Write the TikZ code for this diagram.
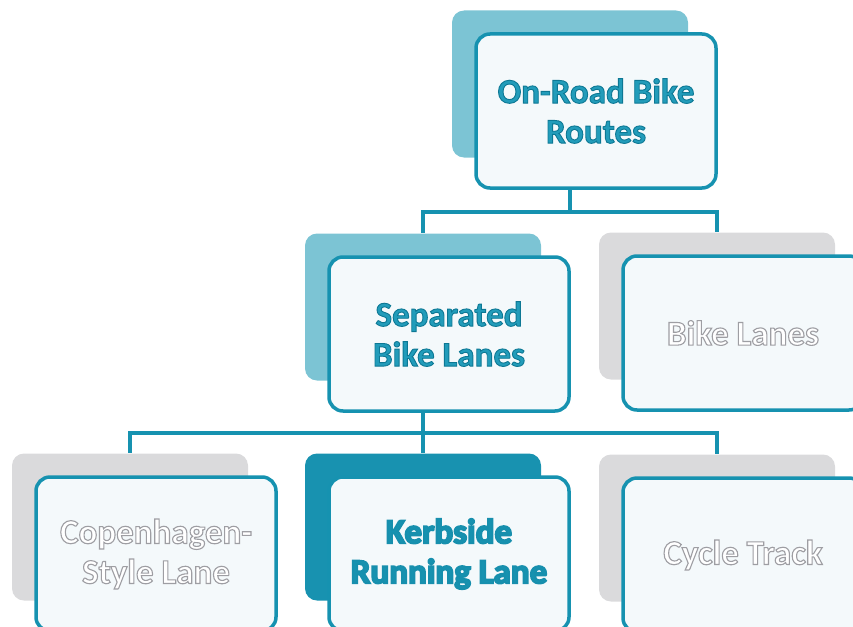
\documentclass[tikz,border=0pt]{standalone}
\usepackage{fontspec}
\setmainfont{Carlito}
\definecolor{tealline}{RGB}{22,146,176}
\definecolor{tealtext}{RGB}{34,156,186}
\definecolor{backlight}{RGB}{124,196,212}
\definecolor{backdark}{RGB}{24,146,176}
\definecolor{backgray}{RGB}{218,218,220}
\definecolor{cardfill}{RGB}{244,249,251}
% outlined text: fill colour, stroke rgb, stroke width
\newcommand\outl[4]{\textcolor{#1}{\special{pdf:literal direct 2 Tr #3 w #2 RG}#4\special{pdf:literal direct 0 Tr}}}
\newcommand\hl[1]{\outl{tealtext}{0.05 0.47 0.58}{0.9}{#1}}
\newcommand\hv[1]{\outl{tealline}{0.09 0.56 0.68}{1.8}{#1}}
\newcommand\shd[1]{\outl{white}{0.62 0.62 0.64}{1.1}{#1}}
\tikzset{
	card/.style={draw=tealline, line width=3.5pt, fill=cardfill, rounded corners=14pt,
		minimum width=240pt, minimum height=154pt, align=center,
		font=\bfseries\fontsize{35}{40}\selectfont},
	backcard/.style={rounded corners=12pt, minimum width=236pt, minimum height=147pt},
	link/.style={draw=tealline, line width=4pt}
}
\begin{document}
\begin{tikzpicture}[x=1pt,y=-1pt]
	\useasboundingbox (0,0) rectangle (853,626);
	\def\dx{26} \def\dy{27} % front card shift
	% back cards
	\node[backcard, fill=backlight] (rootbk) at (570,84) {};
	\node[backcard, fill=backlight] (sepbk) at (423,307) {};
	\node[backcard, fill=backgray] (lanesbk) at (717,306) {};
	\node[backcard, fill=backgray] (copenbk) at (130,527) {};
	\node[backcard, fill=backdark] (kerbbk) at (423,527) {};
	\node[backcard, fill=backgray] (cyclebk) at (717,528) {};
	% front cards
	\node[card] (root) at (570+\dx,84+\dy) {\hl{On-Road Bike}\\\hl{Routes}};
	\node[card] (sep) at (423+\dx,307+\dy) {\hl{Separated}\\\hl{Bike Lanes}};
	\node[card] (lanes) at (717+\dx,306+\dy) {\shd{Bike Lanes}};
	\node[card] (copen) at (130+\dx,527+\dy) {\shd{Copenhagen-}\\\shd{Style Lane}};
	\node[card] (kerb) at (423+\dx,527+\dy) {\hv{Kerbside}\\\hv{Running Lane}};
	\node[card] (cycle) at (717+\dx,528+\dy) {\shd{Cycle Track}};
	% links
	\draw[link] (root.south -| rootbk) -- ++(0,22) coordinate (j1);
	\draw[link] (j1) -| (sepbk.north);
	\draw[link] (j1) -| (lanesbk.north);
	\draw[link] (sep.south -| sepbk) -- ++(0,20) coordinate (j2);
	\draw[link] (j2) -| (copenbk.north);
	\draw[link] (j2) -- (kerbbk.north);
	\draw[link] (j2) -| (cyclebk.north);
\end{tikzpicture}
\end{document}
